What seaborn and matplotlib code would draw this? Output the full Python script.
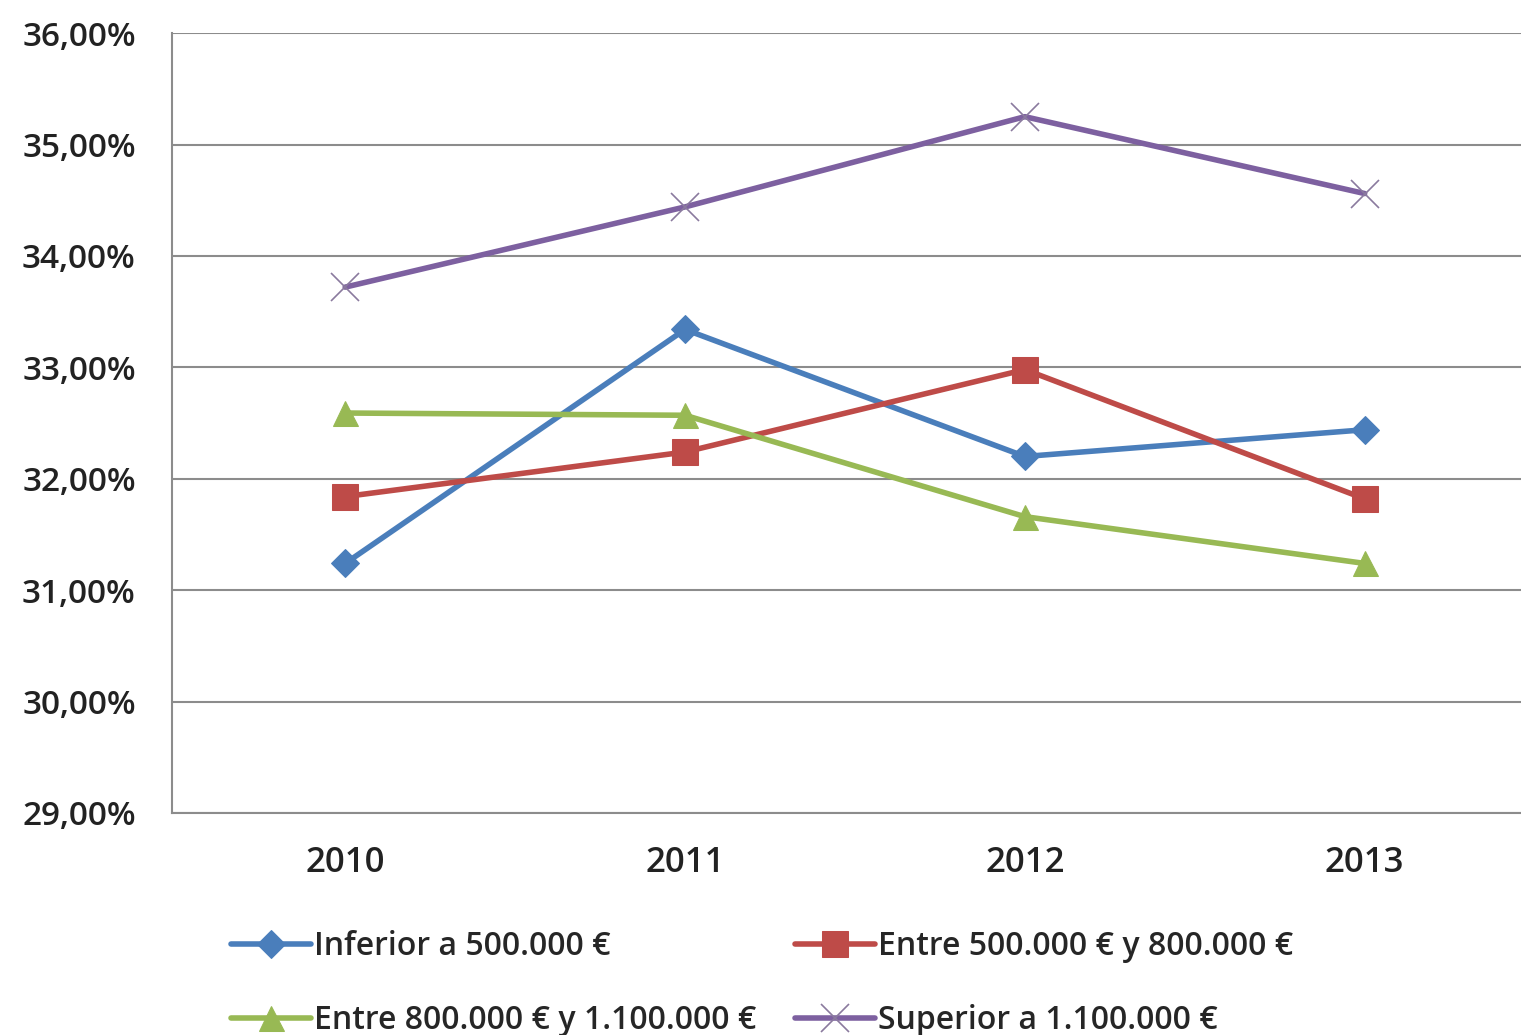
import pandas as pd
import numpy as np
import matplotlib.pyplot as plt
import seaborn as sns

# Datos
years = ['2010', '2011', '2012', '2013']
inferior_500 = [31.24, 33.34, 32.20, 32.44]
entre_500_800 = [31.84, 32.24, 32.98, 31.82]
entre_800_1100 = [32.59, 32.57, 31.66, 31.24]
superior_1100 = [33.72, 34.44, 35.25, 34.56]

series = {
    'Inferior a 500.000 €': inferior_500,
    'Entre 500.000 € y 800.000 €': entre_500_800,
    'Entre 800.000 € y 1.100.000 €': entre_800_1100,
    'Superior a 1.100.000 €': superior_1100,
}
colors = ['#4a7ebb', '#be4b48', '#98b954', '#7d60a0']
markers = ['D', 's', '^', 'x']
msizes = [14, 19, 18, 20]

sns.set_theme(style='white')
plt.rcParams['font.family'] = ['Open Sans', 'DejaVu Sans']

fig = plt.figure(figsize=(15.21, 10.35), dpi=100)
ax = fig.add_axes([0.113, 0.2145, 0.887, 0.7535])

for (name, vals), c, m, s in zip(series.items(), colors, markers, msizes):
    df = pd.DataFrame({'x': np.arange(len(years)), 'y': vals})
    mkw = dict(markeredgecolor='#8a7a9e', markeredgewidth=1.2) if m == 'x' else dict(markeredgecolor=c)
    sns.lineplot(data=df, x='x', y='y', ax=ax, color=c, linewidth=4.0,
                 marker=m, markersize=s, label=name, **mkw)

ax.set_xlim(-0.51, 3.46)
ax.set_ylim(29, 36)
ax.set_yticks(np.arange(29, 36.5, 1))
ax.set_yticklabels([f'{v:.2f}%'.replace('.', ',') for v in np.arange(29, 36.5, 1)])
ax.set_xticks(np.arange(len(years)))
ax.set_xticklabels(years)
ax.set_xlabel('')
ax.set_ylabel('')
ax.tick_params(axis='y', labelsize=24, length=0, colors='#222222', pad=26)
ax.tick_params(axis='x', labelsize=25, length=0, colors='#222222', pad=24)
for t in ax.get_xticklabels() + ax.get_yticklabels():
    t.set_fontweight('semibold')
ax.yaxis.grid(True, color='#8c8c8c', linewidth=1.5)
for sp in ['top', 'right']:
    ax.spines[sp].set_visible(False)
for sp in ['left', 'bottom']:
    ax.spines[sp].set_color('#8c8c8c')
    ax.spines[sp].set_linewidth(1.5)

ax.get_legend().remove()
h, l = ax.get_legend_handles_labels()
order = [0, 2, 1, 3]
fig.legend([h[i] for i in order], [l[i] for i in order], ncol=2,
           loc='lower left', bbox_to_anchor=(0.133, -0.030),
           frameon=False, handlelength=2.5, handletextpad=0.1,
           columnspacing=1.2, labelspacing=1.3,
           prop={'size': 23, 'weight': 'semibold'})

plt.savefig('out.png', dpi=100)
